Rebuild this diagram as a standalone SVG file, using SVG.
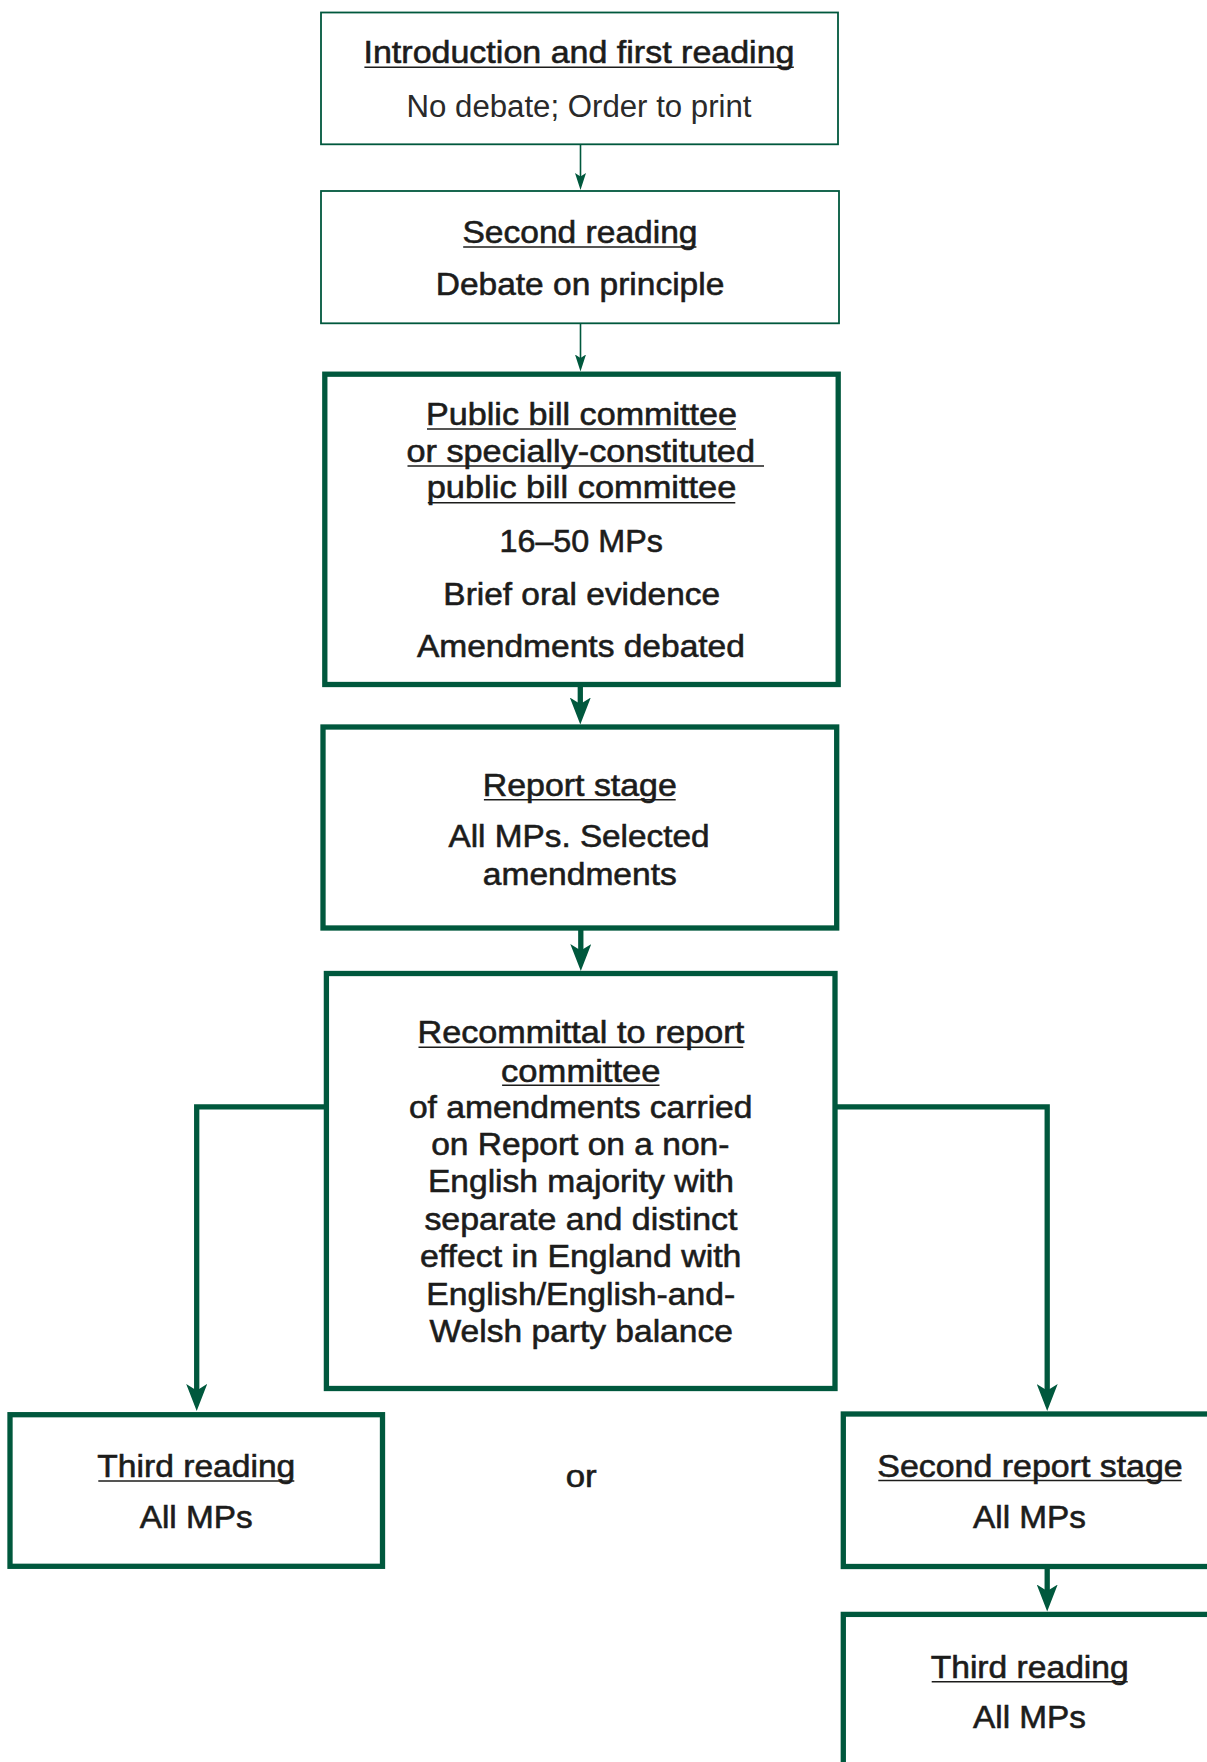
<svg xmlns="http://www.w3.org/2000/svg" width="1207" height="1762" viewBox="0 0 1207 1762">
<style>
  .box { fill: #ffffff; stroke: #00583d; stroke-width: 5.3; }
  .thin { fill: #ffffff; stroke: #00583d; stroke-width: 1.8; }
  .conn { fill: none; stroke: #00583d; stroke-width: 5.3; stroke-linejoin: miter; }
  .conn-thin { fill: none; stroke: #00583d; stroke-width: 1.6; }
  .t { font-family: "Liberation Sans", Arial, sans-serif; font-size: 32px; fill: #1c1c1b; stroke: #1c1c1b; stroke-width: 0.6; text-anchor: middle; }
  .l { font-family: "Liberation Sans", Arial, sans-serif; font-size: 31px; fill: #2a2a2a; text-anchor: middle; }
  .u { stroke: #1c1c1b; stroke-width: 1.6; }
</style>
<defs>
  <marker id="ah" markerUnits="userSpaceOnUse" viewBox="0 0 27 21" refX="8" refY="10.5" markerWidth="27" markerHeight="21" orient="auto">
    <path d="M0,0 L27,10.5 L0,21 L6.5,10.5 Z" fill="#00583d"/>
  </marker>
  <marker id="ahs" markerUnits="userSpaceOnUse" viewBox="0 0 17 11" refX="5" refY="5.5" markerWidth="17" markerHeight="11" orient="auto">
    <path d="M0,0 L17,5.5 L0,11 L3.5,5.5 Z" fill="#00583d"/>
  </marker>
</defs>

<g id="connectors">
  <line class="conn-thin" x1="580.5" y1="144.5" x2="580.5" y2="178" marker-end="url(#ahs)"/>
  <line class="conn-thin" x1="580.5" y1="323.5" x2="580.5" y2="359.5" marker-end="url(#ahs)"/>
  <line class="conn" x1="580.3" y1="684.5" x2="580.3" y2="705.5" marker-end="url(#ah)"/>
  <line class="conn" x1="580.8" y1="928" x2="580.8" y2="952" marker-end="url(#ah)"/>
  <polyline class="conn" points="326.4,1106.8 196.7,1106.8 196.7,1392" marker-end="url(#ah)"/>
  <polyline class="conn" points="835,1106.8 1047.2,1106.8 1047.2,1392" marker-end="url(#ah)"/>
  <line class="conn" x1="1047.2" y1="1566.5" x2="1047.2" y2="1592.5" marker-end="url(#ah)"/>
</g>

<g id="node-intro">
  <rect class="thin" x="321" y="12.5" width="517" height="131.8"/>
  <text class="t" x="579" y="63.3" textLength="431" lengthAdjust="spacingAndGlyphs">Introduction and first reading</text>
  <line class="u" x1="364.4" y1="67.3" x2="793.8" y2="67.3"/>
  <text class="l" x="579" y="116.7" textLength="345" lengthAdjust="spacingAndGlyphs">No debate; Order to print</text>
</g>

<g id="node-second-reading">
  <rect class="thin" x="321" y="191" width="518" height="132.3"/>
  <text class="t" x="580" y="243.3" textLength="235" lengthAdjust="spacingAndGlyphs">Second reading</text>
  <line class="u" x1="463.2" y1="247" x2="696.4" y2="247"/>
  <text class="t" x="580" y="295" textLength="288.5" lengthAdjust="spacingAndGlyphs">Debate on principle</text>
</g>

<g id="node-committee">
  <rect class="box" x="324.8" y="374.2" width="513.4" height="310.3"/>
  <text class="t" x="581.5" y="425" textLength="311" lengthAdjust="spacingAndGlyphs">Public bill committee</text>
  <line class="u" x1="427" y1="429" x2="736" y2="429"/>
  <text class="t" x="580.7" y="461.7" textLength="348.5" lengthAdjust="spacingAndGlyphs">or specially-constituted</text>
  <line class="u" x1="407.5" y1="466" x2="764" y2="466"/>
  <text class="t" x="581.5" y="498.3" textLength="309.5" lengthAdjust="spacingAndGlyphs">public bill committee</text>
  <line class="u" x1="427.8" y1="502.8" x2="735.3" y2="502.8"/>
  <text class="t" x="581.2" y="552.3" textLength="163.5" lengthAdjust="spacingAndGlyphs">16–50 MPs</text>
  <text class="t" x="581.7" y="605" textLength="276.7" lengthAdjust="spacingAndGlyphs">Brief oral evidence</text>
  <text class="t" x="580.9" y="656.7" textLength="328" lengthAdjust="spacingAndGlyphs">Amendments debated</text>
</g>

<g id="node-report">
  <rect class="box" x="323" y="727" width="513.7" height="201"/>
  <text class="t" x="579.8" y="796" textLength="194" lengthAdjust="spacingAndGlyphs">Report stage</text>
  <line class="u" x1="483.9" y1="799.8" x2="675.7" y2="799.8"/>
  <text class="t" x="579" y="846.7" textLength="261" lengthAdjust="spacingAndGlyphs">All MPs. Selected</text>
  <text class="t" x="579.8" y="885" textLength="194" lengthAdjust="spacingAndGlyphs">amendments</text>
</g>

<g id="node-recommittal">
  <rect class="box" x="326.4" y="973.5" width="508.6" height="415"/>
  <text class="t" x="580.9" y="1043.3" textLength="326.7" lengthAdjust="spacingAndGlyphs">Recommittal to report</text>
  <line class="u" x1="418.5" y1="1047.3" x2="743.2" y2="1047.3"/>
  <text class="t" x="580.8" y="1081.7" textLength="159.4" lengthAdjust="spacingAndGlyphs">committee</text>
  <line class="u" x1="502.1" y1="1085.3" x2="659.5" y2="1085.3"/>
  <text class="t" x="580.7" y="1118.3" textLength="343.6" lengthAdjust="spacingAndGlyphs">of amendments carried</text>
  <text class="t" x="580.3" y="1155" textLength="298.2" lengthAdjust="spacingAndGlyphs">on Report on a non-</text>
  <text class="t" x="580.9" y="1192.3" textLength="306" lengthAdjust="spacingAndGlyphs">English majority with</text>
  <text class="t" x="580.9" y="1230" textLength="313" lengthAdjust="spacingAndGlyphs">separate and distinct</text>
  <text class="t" x="580.7" y="1267.3" textLength="321.5" lengthAdjust="spacingAndGlyphs">effect in England with</text>
  <text class="t" x="580.7" y="1305" textLength="309" lengthAdjust="spacingAndGlyphs">English/English-and-</text>
  <text class="t" x="581.2" y="1341.7" textLength="303.3" lengthAdjust="spacingAndGlyphs">Welsh party balance</text>
</g>

<g id="node-third-reading-left">
  <rect class="box" x="10" y="1414.7" width="372.5" height="151.6"/>
  <text class="t" x="196.3" y="1477.2" textLength="198" lengthAdjust="spacingAndGlyphs">Third reading</text>
  <line class="u" x1="98.3" y1="1481" x2="294.3" y2="1481"/>
  <text class="t" x="196.2" y="1528.2" textLength="113" lengthAdjust="spacingAndGlyphs">All MPs</text>
</g>

<g id="label-or">
  <text class="t" x="581.2" y="1486.7" textLength="31" lengthAdjust="spacingAndGlyphs">or</text>
</g>

<g id="node-second-report">
  <rect class="box" x="843.3" y="1414" width="372.5" height="152.5"/>
  <text class="t" x="1030" y="1476.7" textLength="305.4" lengthAdjust="spacingAndGlyphs">Second report stage</text>
  <line class="u" x1="878.3" y1="1480.5" x2="1181.7" y2="1480.5"/>
  <text class="t" x="1029.5" y="1528" textLength="113" lengthAdjust="spacingAndGlyphs">All MPs</text>
</g>

<g id="node-third-reading-right">
  <rect class="box" x="843.3" y="1614.4" width="372.5" height="180"/>
  <text class="t" x="1029.7" y="1678" textLength="198" lengthAdjust="spacingAndGlyphs">Third reading</text>
  <line class="u" x1="931.7" y1="1681.8" x2="1127.7" y2="1681.8"/>
  <text class="t" x="1029.5" y="1728" textLength="113" lengthAdjust="spacingAndGlyphs">All MPs</text>
</g>
</svg>
